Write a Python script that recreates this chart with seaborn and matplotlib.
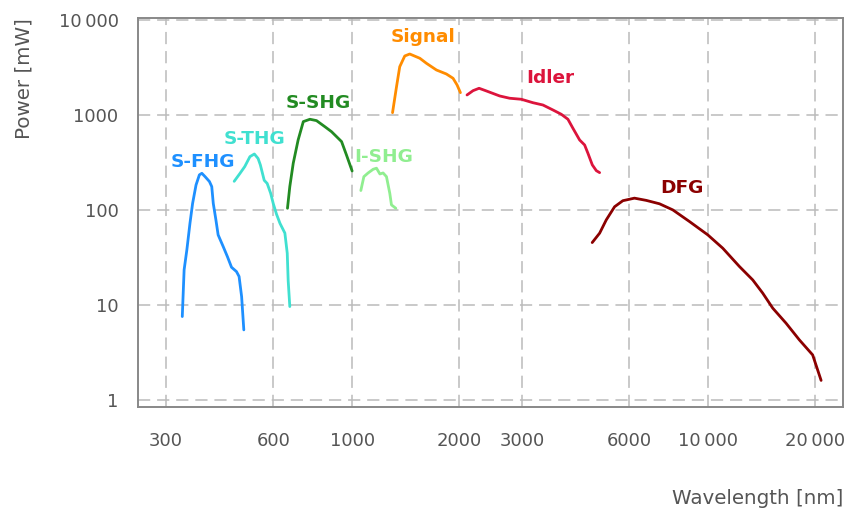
import numpy as np
import pandas as pd
import matplotlib
matplotlib.use("Agg")
import matplotlib.pyplot as plt
import matplotlib.ticker as mticker
import seaborn as sns

# ---- data ----
fhg_wl = [333, 337, 343, 350, 356, 364, 372, 378, 386, 397, 403, 407, 414, 420,
          434, 446, 458, 473, 481, 489, 496]
fhg_p = [7.53, 23.4, 37.9, 72.4, 117, 183, 234, 243, 224, 199, 176, 117, 78.5, 54.6,
         41.1, 32.2, 24.9, 22.4, 19.9, 12.2, 5.45]

thg_wl = [466, 484, 499, 516, 531, 544, 552, 566, 577, 590, 600, 613, 627, 647,
          657, 661, 668]
thg_p = [200, 243, 286, 364, 388, 348, 298, 205, 190, 150, 117, 90, 72, 57,
         35, 18, 9.6]

shg_wl = [658, 668, 683, 705, 729, 761, 794, 838, 875, 934, 964, 1000]
shg_p = [104, 176, 310, 545, 851, 901, 872, 753, 667, 524, 379, 257]

ishg_wl = [1058, 1079, 1109, 1146, 1171, 1197, 1222, 1249, 1276, 1290, 1327]
ishg_p = [160, 224, 245, 268, 275, 239, 245, 224, 150, 113, 104]

sig_wl = [1299, 1333, 1361, 1406, 1452, 1550, 1618, 1726, 1841, 1922, 1973, 2016]
sig_p = [1057, 1986, 3222, 4180, 4386, 3955, 3500, 2976, 2700, 2434, 2069, 1718]

idl_wl = [2104, 2188, 2275, 2385, 2600, 2773, 2991, 3224, 3440, 3669, 3873, 4044,
          4177, 4362, 4505, 4603, 4735, 4860, 4965]
idl_p = [1624, 1803, 1910, 1790, 1585, 1500, 1463, 1346, 1273, 1129, 1017, 901,
         724, 545, 483, 395, 298, 259, 247]

dfg_wl = [4732, 4965, 5183, 5470, 5770, 6220, 6714, 7316, 7975, 8884, 10000, 11020,
          12280, 13380, 14270, 15230, 16600, 18090, 19720, 20830]
dfg_p = [45.3, 56.9, 78.5, 108, 125, 133, 126, 116, 100, 75.4, 54.6, 39.5,
         25.3, 18.3, 13.3, 9.23, 6.41, 4.28, 2.97, 1.6]

series_names = ["S-FHG", "S-THG", "S-SHG", "I-SHG", "Signal", "Idler", "DFG"]
series_data = [(fhg_wl, fhg_p), (thg_wl, thg_p), (shg_wl, shg_p), (ishg_wl, ishg_p),
               (sig_wl, sig_p), (idl_wl, idl_p), (dfg_wl, dfg_p)]
colors = ["#1E90FF", "#40E0D0", "#228B22", "#90EE90", "#FF8C00", "#DC143C", "#8B0000"]
label_wl = [381, 530, 801, 1230, 1585, 3614, 8465]
label_p = [322, 555, 1337, 364, 6566, 2434, 169]

x_ticks = [300, 600, 1000, 2000, 3000, 6000, 10000, 20000]
y_ticks = [1, 10, 100, 1000, 10000]

# ---- build frame ----
rows = []
for name, (wl, p) in zip(series_names, series_data):
    for i, (a, b) in enumerate(zip(wl, p)):
        rows.append({"series": name, "wl": a, "p": b, "idx": i})
df = pd.DataFrame(rows)

sns.set_theme(style="white")
plt.rcParams["font.family"] = ["DejaVu Sans"]

fig = plt.figure(figsize=(8.59, 5.11), dpi=100)
ax = fig.add_axes([138 / 859, 1 - 407 / 511, (843 - 138) / 859, (407 - 18) / 511])

sns.lineplot(data=df, x="wl", y="p", hue="series", units="series", estimator=None,
             sort=False, palette=dict(zip(series_names, colors)), linewidth=2.0,
             legend=False, ax=ax)
for ln in ax.get_lines():
    ln.set_solid_joinstyle("round")
    ln.set_solid_capstyle("round")

ax.set_xscale("log")
ax.set_yscale("log")
ax.set_xlim(250, 24000)
ax.set_ylim(0.84, 10500)

def fmt(v, pos=None):
    s = f"{int(round(v))}"
    if len(s) > 4:
        s = s[:-3] + "\u2009" + s[-3:]
    return s

ax.xaxis.set_major_locator(mticker.FixedLocator(x_ticks))
ax.yaxis.set_major_locator(mticker.FixedLocator(y_ticks))
ax.xaxis.set_major_formatter(mticker.FuncFormatter(fmt))
ax.yaxis.set_major_formatter(mticker.FuncFormatter(fmt))
ax.xaxis.set_minor_locator(mticker.NullLocator())
ax.yaxis.set_minor_locator(mticker.NullLocator())

ax.grid(True, which="major", color="#bbbbbb", linewidth=1.1, linestyle=(0, (8, 4.5)))
ax.set_axisbelow(True)
for sp in ax.spines.values():
    sp.set_color("#888888")
    sp.set_linewidth(1.4)

ax.tick_params(axis="both", which="major", direction="inout", length=8, width=1.1,
               color="#888888", labelcolor="#555555", labelsize=13)
ax.tick_params(axis="x", pad=14)
ax.tick_params(axis="y", pad=10)

ax.set_xlabel("Wavelength [nm]", loc="right", color="#555555", fontsize=14.3, labelpad=28)
ax.set_ylabel("Power [mW]", loc="top", color="#555555", fontsize=14.3, labelpad=18)

for name, c, lx, ly in zip(series_names, colors, label_wl, label_p):
    ax.text(lx, ly, name, color=c, fontsize=13.3, fontweight="bold",
            ha="center", va="center")

fig.savefig("out.png", dpi=100)
